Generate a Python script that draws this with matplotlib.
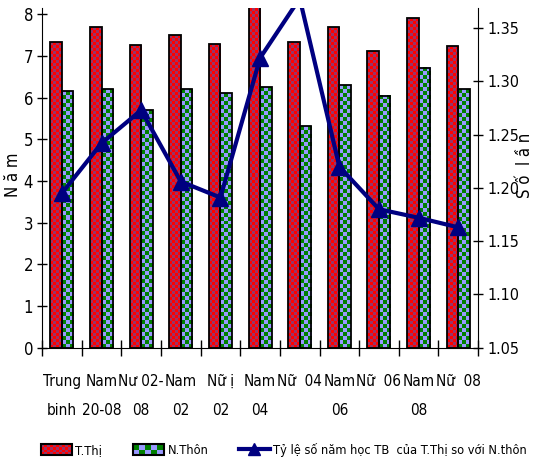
import numpy as np
import matplotlib
matplotlib.use('Agg')
import matplotlib.pyplot as plt
from matplotlib import font_manager
from matplotlib.patches import Rectangle
from matplotlib.lines import Line2D
from matplotlib.legend_handler import HandlerBase
from matplotlib.colors import to_rgb

# chu hep: uu tien DejaVu Sans Condensed neu co
fonts = {(f.name, f.stretch) for f in font_manager.fontManager.ttflist}
if ('DejaVu Sans', 'condensed') in fonts:
    plt.rcParams['font.family'] = ['DejaVu Sans']
    plt.rcParams['font.stretch'] = 'condensed'
    CONDENSED = True
else:
    plt.rcParams['font.family'] = ['Liberation Sans', 'DejaVu Sans']
    CONDENSED = False

# số năm đi học trung bình theo nhóm
nhom = ['Trung\nbinh', 'Nam\n20-08', 'Nư 02-\n08', 'Nam\n02', 'Nữ ị\n02', 'Nam\n04',
        'Nữ  04', 'Nam\n06', 'Nữ  06', 'Nam\n08', 'Nữ  08']
thanh_thi = [7.33, 7.70, 7.25, 7.50, 7.28, 8.26, 7.33, 7.70, 7.12, 7.90, 7.23]
nong_thon = [6.15, 6.20, 5.70, 6.20, 6.10, 6.25, 5.32, 6.30, 6.05, 6.72, 6.20]
ti_le = [1.195, 1.242, 1.273, 1.206, 1.191, 1.322, 1.378, 1.220, 1.180, 1.172, 1.163]

RED, PURPLE = '#ff0000', '#993366'
GREEN, LILAC = '#008000', '#9999ff'
NAVY = '#000080'

fs_tick = 12 if CONDENSED else 11
fs_x = 11 if CONDENSED else 10
fs_leg = 9.2 if CONDENSED else 8.8

fig = plt.figure(figsize=(5.39, 4.67), dpi=100)
ax = fig.add_axes([0.078, 0.2555, 0.809, 0.7274])
ax.set_xlim(-0.5, len(nhom) - 0.5)
ax.set_ylim(0, 8.15)


def checker(ax, x0, x1, y0, y1, c1, c2, cell):
    # o ca ro ve bang anh, kich thuoc o tinh theo pixel
    (px0, py0), (px1, py1) = ax.transData.transform([(x0, y0), (x1, y1)])
    nx = max(1, int(round((px1 - px0) / cell)))
    ny = max(1, int(round((py1 - py0) / cell)))
    grid = np.add.outer(np.arange(ny), np.arange(nx)) % 2
    img = np.where(grid[..., None] == 0, np.array(to_rgb(c1)), np.array(to_rgb(c2)))
    ax.imshow(img, extent=(x0, x1, y0, y1), origin='lower', aspect='auto',
              interpolation='nearest', zorder=1)


x = np.arange(len(nhom))
w = 0.29
top = ax.get_ylim()[1]
for xi, a, b in zip(x, thanh_thi, nong_thon):
    checker(ax, xi - w, xi, 0, min(a, top), RED, PURPLE, 3)
    checker(ax, xi, xi + w, 0, min(b, top), GREEN, LILAC, 4)
ax.bar(x - w / 2, thanh_thi, w, facecolor='none', edgecolor='black', lw=1.3, zorder=2)
ax.bar(x + w / 2, nong_thon, w, facecolor='none', edgecolor='black', lw=1.3, zorder=2)

ax.set_xlim(-0.5, len(nhom) - 0.5)
ax.set_ylim(0, 8.15)
ax.set_yticks(range(0, 9))
ax.set_xticks(np.arange(-0.5, len(nhom)), [])
ax.set_xticks(x, nhom, minor=True)
ax.tick_params(axis='x', which='major', direction='inout', length=12, width=1)
ax.tick_params(axis='x', which='minor', length=0, pad=19, labelsize=fs_x)
ax.tick_params(axis='y', direction='inout', length=7, width=1, labelsize=fs_tick, pad=3)
for t in ax.get_xticklabels(minor=True):
    t.set_linespacing(2.15)
    t.set_verticalalignment('top')
ax.spines['top'].set_visible(False)
ax.spines['right'].set_visible(False)
ax.set_ylabel('N ă m', fontsize=fs_tick)
ax.yaxis.set_label_coords(-0.046, 0.51)

ax2 = ax.twinx()
ax2.plot(x, ti_le, color=NAVY, lw=3, marker='^', ms=11)
ax2.set_ylim(1.05, 1.369)
ax2.set_yticks([1.05, 1.10, 1.15, 1.20, 1.25, 1.30, 1.35])
ax2.set_yticklabels(['%.2f' % v for v in ax2.get_yticks()])
ax2.tick_params(axis='y', direction='inout', length=7, width=1, labelsize=fs_tick - 0.5, pad=3)
for s in ['top', 'left', 'bottom']:
    ax2.spines[s].set_visible(False)
ax2.set_ylabel('S ố  l ầ n', fontsize=fs_tick)
ax2.yaxis.set_label_coords(1.087, 0.538)


class CheckerHandler(HandlerBase):
    def __init__(self, c1, c2, nx, ny):
        super().__init__()
        self.c1, self.c2, self.nx, self.ny = c1, c2, nx, ny

    def create_artists(self, legend, orig_handle, xdescent, ydescent,
                       width, height, fontsize, trans):
        arts = []
        cw, ch = width / self.nx, height / self.ny
        for i in range(self.nx):
            for j in range(self.ny):
                c = self.c1 if (i + j) % 2 == 0 else self.c2
                arts.append(Rectangle((-xdescent + i * cw, -ydescent + j * ch), cw, ch,
                                      facecolor=c, edgecolor='none', transform=trans))
        arts.append(Rectangle((-xdescent, -ydescent), width, height, facecolor='none',
                              edgecolor='black', lw=1.5, transform=trans))
        return arts


h_tt = Rectangle((0, 0), 1, 1)
h_nt = Rectangle((0, 0), 1, 1)
h_tl = Line2D([], [], color=NAVY, lw=3, marker='^', ms=9)
fig.legend([h_tt, h_nt, h_tl],
           ['T.Thị', 'N.Thôn', 'Tỷ lệ số năm học TB  của T.Thị so với N.thôn'],
           handler_map={h_tt: CheckerHandler(RED, PURPLE, 10, 4),
                        h_nt: CheckerHandler(LILAC, GREEN, 5, 2)},
           loc='center', bbox_to_anchor=(0.527, 0.036), ncol=3, frameon=False,
           fontsize=fs_leg, handlelength=2.4, handleheight=0.9, handletextpad=0.3,
           columnspacing=2.4, borderpad=0, borderaxespad=0)

fig.savefig('out.png', dpi=100)
